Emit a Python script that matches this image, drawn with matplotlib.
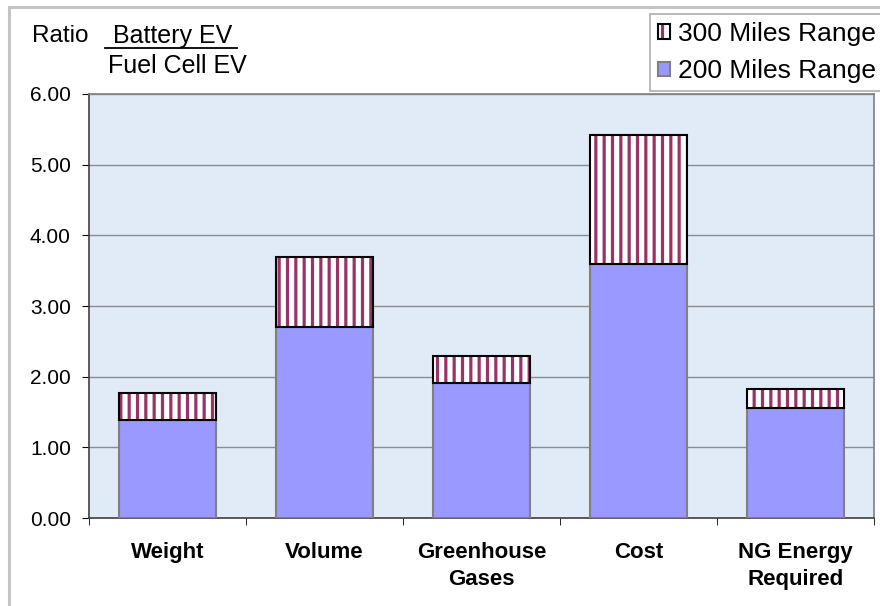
import numpy as np
import matplotlib.pyplot as plt
from matplotlib.patches import Patch, Rectangle
from matplotlib.lines import Line2D
from matplotlib.legend_handler import HandlerTuple

categories = ["Weight", "Volume", "Greenhouse\nGases", "Cost", "NG Energy\nRequired"]
range_200 = [1.39, 2.70, 1.91, 3.60, 1.56]
range_300 = [1.77, 3.70, 2.29, 5.42, 1.83]

plt.rcParams['font.family'] = ['Liberation Sans', 'DejaVu Sans']
plt.rcParams['hatch.linewidth'] = 2.3

fig = plt.figure(figsize=(8.8, 6.06), dpi=100)
ax = fig.add_axes([0.101, 0.145, 0.892, 0.70])
ax.set_facecolor('#e0ebf7')

x = np.arange(len(categories))
extra = np.array(range_300) - np.array(range_200)
w = 0.62

ax.bar(x, range_200, width=w, color='#9999ff', edgecolor='#808080', linewidth=1.5, zorder=3)
# striped part: hatch drawn in edge colour, outline added on top in black
ax.bar(x, extra, width=w, bottom=range_200, color='white', edgecolor='#993366',
       hatch='||', linewidth=0, zorder=3)
ax.bar(x, extra, width=w, bottom=range_200, fill=False, edgecolor='black',
       linewidth=1.5, zorder=4)

ax.set_xlim(-0.5, len(categories) - 0.5)
ax.set_ylim(0, 6)
ax.set_yticks(np.arange(0, 7, 1))
ax.set_yticklabels(["%.2f" % v for v in np.arange(0, 7, 1)], fontsize=15)
ax.yaxis.grid(True, color='#8c8c8c', linewidth=1, zorder=1)
ax.set_axisbelow(True)

ax.set_xticks(x)
ax.set_xticklabels(categories, fontsize=16, fontweight='bold', linespacing=1.4)
ax.tick_params(axis='x', which='major', length=0, pad=17)
ax.set_xticks(np.arange(-0.5, len(categories), 1), minor=True)
ax.tick_params(axis='x', which='minor', length=5, direction='out', color='black')
ax.tick_params(axis='y', length=5, direction='out', color='black', pad=8)

for side in ['top', 'right']:
    ax.spines[side].set_color('#808080')
for side in ['left', 'bottom']:
    ax.spines[side].set_color('#404040')
for s in ax.spines.values():
    s.set_linewidth(1.2)

# outer chart frame (runs off the right and bottom edges)
fig.add_artist(Rectangle((9 / 880, -0.05), 1.05, 1.05 - 7 / 606, transform=fig.transFigure,
                         fill=False, edgecolor='#c4c4c4', linewidth=2.2))

fig.text(32 / 880, 1 - 36 / 606, "Ratio", fontsize=17.5, va='center')
fig.text(113 / 880, 1 - 36 / 606, "Battery EV", fontsize=18, va='center')
fig.add_artist(Line2D([105 / 880, 237 / 880], [1 - 48 / 606, 1 - 48 / 606],
                      transform=fig.transFigure, color='black', linewidth=1.3))
fig.text(108 / 880, 1 - 66 / 606, "Fuel Cell EV", fontsize=18, va='center')

hatch_key = (Patch(facecolor='white', edgecolor='#993366', hatch='||', linewidth=0),
             Patch(fill=False, edgecolor='black', linewidth=1.5))
plain_key = Patch(facecolor='#9999ff', edgecolor='#808080', linewidth=1.5)
leg = fig.legend([hatch_key, plain_key], ["300 Miles Range", "200 Miles Range"],
                 handler_map={tuple: HandlerTuple(ndivide=1, pad=0)},
                 loc='upper left', bbox_to_anchor=(650 / 880, 1 - 14 / 606),
                 fontsize=19, frameon=True, fancybox=False, edgecolor='#999999',
                 handlelength=0.45, handleheight=0.45, handletextpad=0.3,
                 borderpad=0.3, labelspacing=0.5, borderaxespad=0)
leg.get_frame().set_linewidth(1.2)

fig.savefig("out.png", dpi=100)
